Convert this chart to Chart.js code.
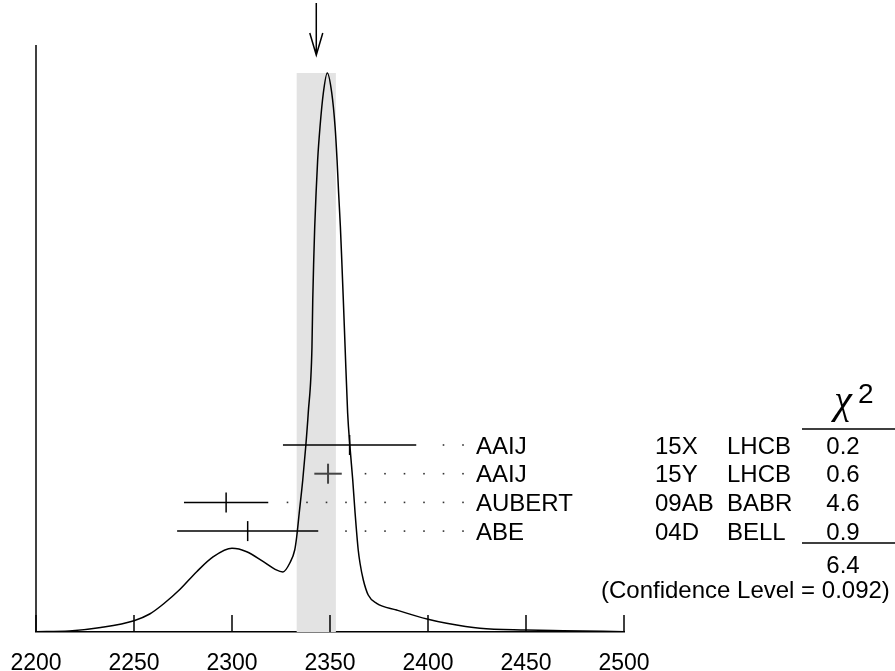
<!DOCTYPE html>
<html>
<head>
<meta charset="utf-8">
<title>Ideogram</title>
<script src="https://cdn.jsdelivr.net/npm/chart.js@4.4.1/dist/chart.umd.min.js"></script>
<style>
  html, body { margin: 0; padding: 0; background: #fff; }
  canvas { display: block; }
</style>
</head>
<body>
<canvas id="ideogram" width="895" height="671"></canvas>
<script>
// =======================
// Data
// =======================
const xTicks = [2200, 2250, 2300, 2350, 2400, 2450, 2500];

const authors = ['AAIJ', 'AAIJ', 'AUBERT', 'ABE'];
const documents = ['15X', '15Y', '09AB', '04D'];
const experiments = ['LHCB', 'LHCB', 'BABR', 'BELL'];
const values = [2360, 2349, 2297, 2308];
const errors = [34, 7, 21.5, 36];
const chi2 = [0.2, 0.6, 4.6, 0.9];
const chi2Total = 6.4;
const confidenceLevel = 0.092;

const average = 2343;
const averageError = 10;

// ideogram curve, arbitrary height units
const curveX = [2200, 2217, 2233, 2250, 2258, 2265, 2273.5, 2282, 2290.5, 2300,
    2307.5, 2316, 2322, 2326, 2329.5, 2332, 2333, 2334.3, 2336.1, 2337.6,
    2338.9, 2340.8, 2341.2, 2341.7, 2342.2, 2342.9, 2343.7, 2344.9, 2346.6, 2348.6,
    2350.9, 2352.6, 2353.6, 2354.4, 2355.3, 2356, 2356.8, 2357.7, 2359, 2360.2,
    2361.6, 2362.8, 2364.4, 2365.3, 2367, 2369.5, 2373.8, 2384, 2400, 2409.5,
    2426.5, 2450, 2469, 2500];
const curveY = [0.3, 1, 4.5, 11.3, 18, 28, 42.7, 60.3, 75.3, 83.7,
    80.3, 70.3, 62.7, 60, 69, 82, 95, 119, 152, 185,
    219, 285, 332, 372, 405, 439, 472, 505, 539, 559,
    539, 505, 472, 439, 405, 372, 332, 285, 219, 185,
    152, 119, 82, 69, 52, 37, 28.7, 22, 12.7, 8.7,
    3.7, 2, 1.3, 0.3];

// =======================
// Layout helpers
// =======================
const FONT = "'Liberation Sans', Arial, Helvetica, sans-serif";
const rowValue = i => 187 - i * 28.7;
const rowColors = ['#000', '#444', '#000', '#000'];
const rowWidths = [1.5, 2, 1.5, 1.5];

const errorBarSets = values.map((v, i) => ({
    data: [{ x: v - errors[i], y: rowValue(i) }, { x: v + errors[i], y: rowValue(i) }],
    showLine: true,
    borderColor: rowColors[i],
    borderWidth: rowWidths[i],
    pointRadius: 0
}));

const centerSet = {
    data: values.map((v, i) => ({ x: v, y: rowValue(i) })),
    pointStyle: 'line',
    rotation: 90,
    pointRadius: 10,
    pointBorderWidth: rowWidths,
    pointBorderColor: rowColors,
    showLine: false
};

const curveSet = {
    data: curveX.map((x, i) => ({ x: x, y: curveY[i] })),
    showLine: true,
    borderColor: '#000',
    borderWidth: 1.5,
    pointRadius: 0,
    cubicInterpolationMode: 'monotone'
};

// =======================
// Extra drawing: band, axis, arrow, inner ticks, labels, table
// =======================
const ideogramExtras = {
    id: 'ideogramExtras',
    beforeDatasetsDraw(chart) {
        const { ctx, chartArea, scales: { x, y } } = chart;
        const left = x.getPixelForValue(average - averageError);
        const right = x.getPixelForValue(average + averageError);
        const top = y.getPixelForValue(Math.max(...curveY));
        ctx.save();
        ctx.fillStyle = '#e3e3e3';
        ctx.fillRect(left, top, right - left, chartArea.bottom - top);
        ctx.restore();
    },
    afterDraw(chart) {
        const { ctx, chartArea, scales: { x, y } } = chart;
        ctx.save();
        ctx.strokeStyle = '#000';
        ctx.lineWidth = 1.5;

        // left axis line
        ctx.beginPath();
        ctx.moveTo(chartArea.left, chartArea.top);
        ctx.lineTo(chartArea.left, chartArea.bottom);
        ctx.stroke();

        // ticks pointing up into the plot
        xTicks.forEach(v => {
            const px = x.getPixelForValue(v);
            ctx.beginPath();
            ctx.moveTo(px, chartArea.bottom);
            ctx.lineTo(px, chartArea.bottom - 17);
            ctx.stroke();
        });

        // arrow at the average
        const ax = x.getPixelForValue(average);
        ctx.beginPath();
        ctx.moveTo(ax, 3);
        ctx.lineTo(ax, 55);
        ctx.moveTo(ax - 6.5, 33);
        ctx.lineTo(ax, 55);
        ctx.lineTo(ax + 6.5, 33);
        ctx.stroke();

        // leader dots and measurement labels
        ctx.font = '24px ' + FONT;
        ctx.textBaseline = 'alphabetic';
        values.forEach((v, i) => {
            const py = y.getPixelForValue(rowValue(i));
            const end = x.getPixelForValue(v + errors[i]);
            ctx.fillStyle = '#333';
            for (let dx = 463; dx > end + 12; dx -= 19.5) {
                ctx.fillRect(dx - 0.8, py - 0.8, 1.6, 1.6);
            }
            ctx.fillStyle = '#000';
            ctx.textAlign = 'left';
            ctx.fillText(authors[i], 476, py + 8.5);
            ctx.fillText(documents[i], 655, py + 8.5);
            ctx.fillText(experiments[i], 727, py + 8.5);
            ctx.textAlign = 'center';
            ctx.fillText(chi2[i].toFixed(1), 843, py + 8.5);
        });

        // chi-square header
        ctx.textAlign = 'center';
        ctx.font = "italic 40px 'Liberation Serif', 'DejaVu Serif', serif";
        ctx.fillText('\u03c7', 843, 413);
        ctx.textAlign = 'left';
        ctx.font = '28px ' + FONT;
        ctx.fillText('2', 858, 403);

        ctx.beginPath();
        ctx.moveTo(802, 429);
        ctx.lineTo(895, 429);
        ctx.moveTo(802, 543);
        ctx.lineTo(895, 543);
        ctx.stroke();

        ctx.font = '24px ' + FONT;
        ctx.textAlign = 'center';
        ctx.fillText(chi2Total.toFixed(1), 843, 573);
        ctx.textAlign = 'left';
        ctx.fillText('(Confidence Level = ' + confidenceLevel + ')', 601, 598);
        ctx.restore();
    }
};

// =======================
// The chart
// =======================
new Chart(document.querySelector('#ideogram'), {
    type: 'scatter',
    data: { datasets: [curveSet, ...errorBarSets, centerSet] },
    options: {
        responsive: false,
        devicePixelRatio: 1,
        animation: false,
        events: [],
        layout: { padding: { left: 36, right: 271, top: 45, bottom: 0 } },
        scales: {
            x: {
                type: 'linear',
                min: 2200,
                max: 2500,
                grid: { display: false },
                border: { display: true, color: '#000', width: 1.5 },
                afterBuildTicks: s => { s.ticks = xTicks.map(v => ({ value: v })); },
                afterFit: s => {
                    s.height = 39;
                    s.paddingLeft = 0;
                    s.paddingRight = 0;
                },
                ticks: {
                    autoSkip: false,
                    maxRotation: 0,
                    padding: 10,
                    color: '#000',
                    font: { family: FONT, size: 23 },
                    callback: v => String(v)
                }
            },
            y: {
                type: 'linear',
                display: false,
                min: 0,
                max: 587
            }
        },
        plugins: {
            legend: { display: false },
            tooltip: { enabled: false }
        }
    },
    plugins: [ideogramExtras]
});
</script>
</body>
</html>
